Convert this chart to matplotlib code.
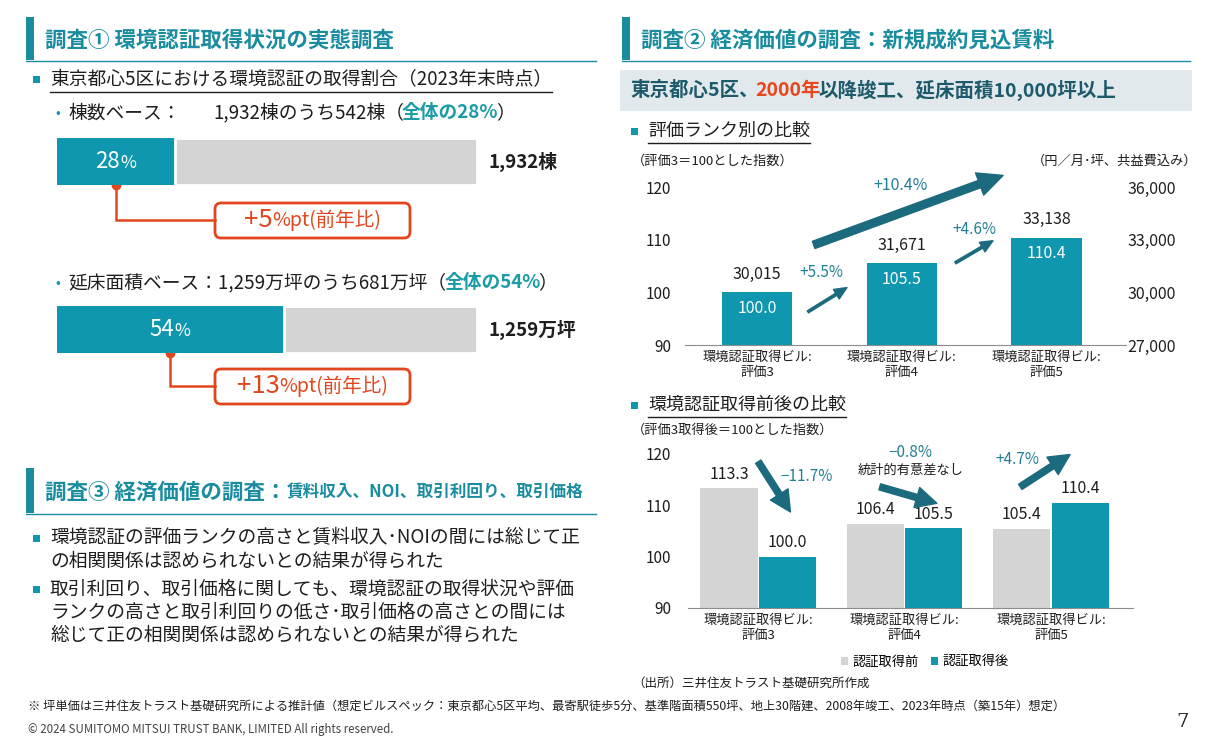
import matplotlib
matplotlib.use('Agg')
import matplotlib.pyplot as plt
from matplotlib.patches import Rectangle, FancyBboxPatch
import numpy as np

plt.rcParams['font.family'] = ['Noto Sans CJK JP', 'DejaVu Sans']

# ---------------- data ----------------
count_total = 1932
count_cert = 542
area_total = 1259
area_cert = 681
yoy_pt = [5, 13]

rank_labels = ['環境認証取得ビル:\n評価3', '環境認証取得ビル:\n評価4', '環境認証取得ビル:\n評価5']
rank_index = [100.0, 105.5, 110.4]
rank_rent = [30015, 31671, 33138]
before_index = [113.3, 106.4, 105.4]
after_index = [100.0, 105.5, 110.4]
series_names = ['認証取得前', '認証取得後']
left_ticks = [90, 100, 110, 120]
right_ticks = [27000, 30000, 33000, 36000]

# ---------------- style ----------------
TEAL = '#0E97AE'
HEAD = '#1A8C9F'
DARK = '#1B6A7E'
PCT = '#237F92'
GREEN = '#1C9CA6'
RED = '#E2461E'
GRAY = '#D4D4D4'
TXT = '#1E1E1E'

W, H = 1205, 747
fig = plt.figure(figsize=(W / 100, H / 100), dpi=100)
bg = fig.add_axes([0, 0, 1, 1])
bg.set_xlim(0, W)
bg.set_ylim(H, 0)
bg.axis('off')
R = fig.canvas.get_renderer()


def px_axes(x0, y0, x1, y1):
    return fig.add_axes([x0 / W, 1 - y1 / H, (x1 - x0) / W, (y1 - y0) / H])


def runs(x, y, parts, ha='left', underline=None, adjust=0):
    objs, widths = [], []
    for s, kw in parts:
        t = bg.text(0, y, s, va='center', ha='left', **kw)
        widths.append(t.get_window_extent(renderer=R).width + adjust)
        objs.append(t)
    total = sum(widths)
    if ha == 'center':
        x = x - total / 2
    elif ha == 'right':
        x = x - total
    cur = x
    for t, w in zip(objs, widths):
        t.set_x(cur)
        cur += w
    if underline is not None:
        bg.plot([x, cur], [underline, underline], color=TXT, lw=1)
    return x, cur


def header(x0, x1, parts):
    bg.add_patch(Rectangle((x0, 17), 8, 43, color=HEAD, lw=0))
    runs(x0 + 19, 40, parts)
    bg.plot([x0, x1], [61, 61], color=HEAD, lw=1)


def bullet_sq(x, y):
    bg.add_patch(Rectangle((x - 3.5, y - 3.5), 7, 7, color=TEAL, lw=0))


# ---------------- left: survey 1 ----------------
header(26, 596, [('調査① 環境認証取得状況の実態調査', dict(size=15.5, weight='bold', color=HEAD))])
bullet_sq(36, 79)
runs(50, 80, [('東京都心5区における環境認証の取得割合（2023年末時点）', dict(size=13.5, color=TXT))], underline=92)

share1 = round(count_cert / count_total * 100)
share2 = round(area_cert / area_total * 100)

bg.text(58, 113, '•', color=TEAL, size=10, ha='center', va='center')
runs(68, 113, [('棟数ベース：', dict(size=13.5, color=TXT))])
runs(213, 113, [(f'{count_total:,}棟のうち{count_cert}棟（', dict(size=13.5, color=TXT)),
                (f'全体の{share1}%', dict(size=13.5, color=GREEN, weight='bold')),
                ('）', dict(size=13.5, color=TXT))], adjust=-2)

bg.text(58, 283, '•', color=TEAL, size=10, ha='center', va='center')
runs(68, 283, [(f'延床面積ベース：{area_total:,}万坪のうち{area_cert}万坪（', dict(size=13.5, color=TXT)),
               (f'全体の{share2}%', dict(size=13.5, color=GREEN, weight='bold')),
               ('）', dict(size=13.5, color=TXT))], adjust=-2)

BX0, BX1 = 57, 477
for (y0, y1, share, total_lbl, dy, pt) in [
        (138, 185, share1, f'{count_total:,}棟', 220, yoy_pt[0]),
        (306, 353, share2, f'{area_total:,}万坪', 386, yoy_pt[1])]:
    axb = px_axes(BX0, y0, BX1, y1)
    axb.barh([0], [share], height=1, color=TEAL, lw=0)
    axb.barh([0], [100 - share], left=[share], height=1, color=GRAY,
             edgecolor='white', lw=2)
    axb.set_xlim(0, 100)
    axb.set_ylim(-0.5, 0.5)
    axb.axis('off')
    axb.text(share / 2 + 1, 0, f'{share}', color='white', size=16, ha='right', va='center')
    axb.text(share / 2 + 1, -0.04, '%', color='white', size=12.5, ha='left', va='center')
    bg.text(488, (y0 + y1) / 2, total_lbl, size=13.5, weight='bold', color=TXT, va='center')
    # connector + callout
    dx = BX0 + share / 200 * (BX1 - BX0)
    bg.plot([dx, dx, 215], [y1, dy, dy], color=RED, lw=1.8, solid_joinstyle='miter')
    bg.plot([dx], [y1], 'o', color=RED, ms=6)
    bg.add_patch(FancyBboxPatch((215, dy - 17), 195, 35,
                                boxstyle='round,pad=0,rounding_size=6',
                                ec=RED, fc='white', lw=2))
    runs(312, dy, [(f'+{pt}', dict(size=18.5, color=RED)),
                   ('%pt(前年比)', dict(size=14, color=RED))], ha='center', adjust=-1)

# ---------------- left: survey 3 ----------------
bg.add_patch(Rectangle((26, 468), 8, 45, color=HEAD, lw=0))
runs(45, 492, [('調査③ 経済価値の調査：', dict(size=15.5, weight='bold', color=HEAD)),
               ('賃料収入、NOI、取引利回り、取引価格', dict(size=12, weight='bold', color=HEAD))])
bg.plot([26, 596], [514, 514], color=HEAD, lw=1)

bullet_sq(36, 538)
bg.text(50, 538, '環境認証の評価ランクの高さと賃料収入･NOIの間には総じて正', size=13.5, color=TXT, va='center')
bg.text(50, 561, 'の相関関係は認められないとの結果が得られた', size=13.5, color=TXT, va='center')
bullet_sq(36, 589)
bg.text(50, 589, '取引利回り、取引価格に関しても、環境認証の取得状況や評価', size=13.5, color=TXT, va='center')
bg.text(50, 612, 'ランクの高さと取引利回りの低さ･取引価格の高さとの間には', size=13.5, color=TXT, va='center')
bg.text(50, 635, '総じて正の相関関係は認められないとの結果が得られた', size=13.5, color=TXT, va='center')

# ---------------- right: survey 2 ----------------
header(622, 1190, [('調査② 経済価値の調査：新規成約見込賃料', dict(size=15.5, weight='bold', color=HEAD))])
bg.add_patch(Rectangle((620, 70), 572, 41, color='#E2E9ED', lw=0))
runs(630, 90, [('東京都心5区、', dict(size=14, weight='bold', color='#1D5A6A')),
               ('2000年', dict(size=14, weight='bold', color='#E8461C')),
               ('以降竣工、延床面積10,000坪以上', dict(size=14, weight='bold', color='#1D5A6A'))], adjust=-3)

bullet_sq(634, 131)
runs(648, 131, [('評価ランク別の比較', dict(size=13, color=TXT))], underline=143)
bg.text(632, 161, '（評価3＝100とした指数）', size=9.5, color=TXT, va='center')
bg.text(1197, 161, '（円／月･坪、共益費込み）', size=9.5, color=TXT, va='center', ha='right')

x = np.arange(len(rank_index))
ax1 = px_axes(685, 187, 1126, 345)
ax1.bar(x, rank_index, width=0.485, color=TEAL)
ax1.set_xlim(-0.5, 2.55)
ax1.set_ylim(90, 120)
ax1.set_yticks(left_ticks)
ax1.set_xticks(x, rank_labels)
for s in ['top', 'right', 'left']:
    ax1.spines[s].set_visible(False)
ax1.spines['bottom'].set_color('#8C8C8C')
ax1.tick_params(axis='y', length=0, pad=10, labelsize=11, labelcolor=TXT)
ax1.tick_params(axis='x', length=0, pad=4, labelsize=9.5, labelcolor=TXT)
ax1r = ax1.twinx()
ax1r.set_ylim(right_ticks[0], right_ticks[-1])
ax1r.set_yticks(right_ticks, [f'{v:,}' for v in right_ticks])
for s in ['top', 'right', 'left', 'bottom']:
    ax1r.spines[s].set_visible(False)
ax1r.tick_params(axis='y', length=0, pad=1, labelsize=11.5, labelcolor=TXT)
for i, (v, r) in enumerate(zip(rank_index, rank_rent)):
    ax1.text(i, v - 3.1, f'{v:.1f}', color='white', size=11.5, ha='center', va='center')
    ax1.text(i, v + 3.4, f'{r:,}', color=TXT, size=11.5, ha='center', va='center')


def pct(a, b):
    d = (b / a - 1) * 100
    return ('+' if d > 0 else '−') + f'{abs(d):.1f}%'


def arrow(ax, p0, p1, tail, hw, hl, ms=10):
    ax.annotate('', xy=p1, xytext=p0,
                arrowprops=dict(arrowstyle=f'simple,head_width={hw},head_length={hl},tail_width={tail}',
                                color=DARK, shrinkA=0, shrinkB=0, mutation_scale=ms),
                annotation_clip=False)


arrow(ax1, (0.35, 96.3), (0.62, 100.9), 0.17, 0.8, 0.9)
ax1.text(0.44, 103.7, pct(rank_index[0], rank_index[1]), color=PCT, size=11, ha='center', va='center')
arrow(ax1, (1.37, 105.6), (1.63, 109.8), 0.17, 0.8, 0.9)
ax1.text(1.5, 112.0, pct(rank_index[1], rank_index[2]), color=PCT, size=11, ha='center', va='center')
arrow(ax1, (0.39, 109.0), (1.70, 122.2), 0.55, 1.7, 1.8)
ax1.text(0.99, 120.2, pct(rank_index[0], rank_index[2]), color=PCT, size=11.5, ha='center', va='center')

# ---------------- right: before / after ----------------
bullet_sq(634, 405)
runs(648, 405, [('環境認証取得前後の比較', dict(size=13, color=TXT))], underline=417)
bg.text(632, 430, '（評価3取得後＝100とした指数）', size=9.5, color=TXT, va='center')

ax2 = px_axes(688, 454, 1133, 608)
b1 = ax2.bar(x - 0.2, before_index, width=0.39, color=GRAY, label=series_names[0])
b2 = ax2.bar(x + 0.2, after_index, width=0.39, color=TEAL, label=series_names[1])
ax2.set_xlim(-0.48, 2.56)
ax2.set_ylim(90, 120)
ax2.set_yticks(left_ticks)
ax2.set_xticks(x, rank_labels)
for s in ['top', 'right', 'left']:
    ax2.spines[s].set_visible(False)
ax2.spines['bottom'].set_color('#8C8C8C')
ax2.tick_params(axis='y', length=0, pad=12, labelsize=11, labelcolor=TXT)
ax2.tick_params(axis='x', length=0, pad=4, labelsize=9.5, labelcolor=TXT)
for i in range(len(x)):
    ax2.text(i - 0.2, before_index[i] + 2.8, f'{before_index[i]:.1f}', size=11.5, color=TXT, ha='center', va='center')
    ax2.text(i + 0.2, after_index[i] + 2.8, f'{after_index[i]:.1f}', size=11.5, color=TXT, ha='center', va='center')

arrow(ax2, (0.0, 118.5), (0.22, 108.7), 0.45, 1.5, 1.5)
ax2.text(0.33, 115.6, pct(before_index[0], after_index[0]), color=PCT, size=11, ha='center', va='center')
arrow(ax2, (0.83, 113.6), (1.22, 110.4), 0.45, 1.5, 1.5)
ax2.text(1.04, 120.2, pct(before_index[1], after_index[1]), color=PCT, size=11, ha='center', va='center')
ax2.text(1.04, 116.9, '統計的有意差なし', color=TXT, size=9.5, ha='center', va='center')
arrow(ax2, (1.79, 113.6), (2.13, 119.9), 0.45, 1.5, 1.5)
ax2.text(1.77, 119.0, pct(before_index[2], after_index[2]), color=PCT, size=11, ha='center', va='center')

fig.legend(handles=[b1, b2], labels=series_names, loc='center',
           bbox_to_anchor=(925 / W, 1 - 662 / H), ncol=2, frameon=False,
           handlelength=0.55, handleheight=0.55, handletextpad=0.35,
           columnspacing=0.9, fontsize=9.5, borderpad=0)

bg.text(632, 683, '（出所）三井住友トラスト基礎研究所作成', size=9, color=TXT, va='center')

# ---------------- footer ----------------
bg.text(28, 706, '※ 坪単価は三井住友トラスト基礎研究所による推計値（想定ビルスペック：東京都心5区平均、最寄駅徒歩5分、基準階面積550坪、地上30階建、2008年竣工、2023年時点（築15年）想定）',
        size=8.8, color=TXT, va='center')
bg.text(28, 729, '© 2024 SUMITOMO MITSUI TRUST BANK, LIMITED All rights reserved.', size=8.3, color='#444444', va='center')
bg.text(1183, 722, '7', size=14, color=TXT, va='center', ha='center', family='DejaVu Serif')

fig.savefig('out.png', dpi=100)
